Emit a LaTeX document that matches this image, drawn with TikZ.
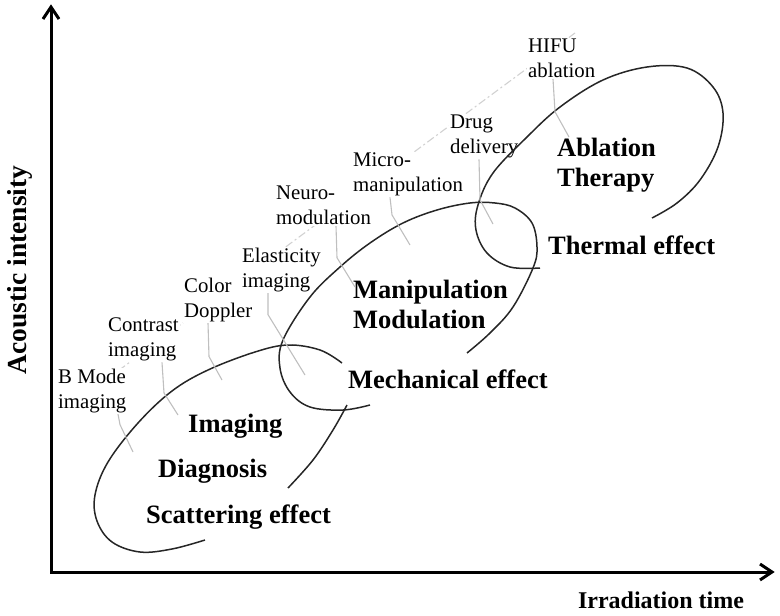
\documentclass[tikz,border=0pt]{standalone}
\usepackage{fontspec}
\setmainfont{Liberation Serif}
\tikzset{axis/.style={line width=3pt, line join=miter}}
\tikzset{axislabel/.style={inner sep=0, font=\fontsize{24}{28}\selectfont\bfseries}}
\tikzset{usecase/.style={fill=white, inner sep=1pt, align=left, anchor=north west,
    font=\fontsize{20.8}{25}\selectfont}}
\tikzset{effect/.style={inner sep=0, align=left, font=\fontsize{26.5}{30}\selectfont\bfseries}}
\tikzset{region/.style={line width=1.5pt, draw=black!85}}
\tikzset{leader/.style={line width=1.1pt, draw=black!25}}
\tikzset{guide/.style={line width=1.1pt, draw=black!18, dash pattern=on 8pt off 3pt on 2pt off 3pt}}

\begin{document}
\begin{tikzpicture}[x=1pt, y=-1pt]
    \useasboundingbox (0,0) rectangle (780,616);
    % dash-dot guide
    \coordinate (g0) at (80,399);
    \coordinate (g1) at (575,33);
    \draw[guide] (g0) -- (g1);

    % applications
    \node (bmode)      [usecase] at (57,367.8)  {B Mode\\imaging};
    \node (contrast)   [usecase] at (107,316.8) {Contrast\\imaging};
    \node (doppler)    [usecase] at (183,276.8) {Color\\Doppler};
    \node (elasticity) [usecase] at (241,246.8) {Elasticity\\imaging};
    \node (neuromod)   [usecase] at (275,184.8) {Neuro-\\modulation};
    \node (micromanip) [usecase] at (352,151.8) {Micro-\\manipulation};
    \node (drug)       [usecase] at (449,113.8) {Drug\\delivery};
    \node (hifu)       [usecase] at (527,37.8)  {HIFU\\ablation};

    % effects
    \node (ablation)   [effect, anchor=north west] at (557,137.7) {Ablation\\Therapy};
    \node (thermal)    [effect, anchor=base west]  at (548,254) {Thermal effect};
    \node (manip)      [effect, anchor=north west] at (353,279.7) {Manipulation\\Modulation};
    \node (mechanical) [effect, anchor=base west]  at (348,388) {Mechanical effect};
    \node (imaging)    [effect, anchor=base west]  at (188,432) {Imaging};
    \node (diagnosis)  [effect, anchor=base west]  at (158,477) {Diagnosis};
    \node (scattering) [effect, anchor=base west]  at (146,523) {Scattering effect};

    % region outlines
    \draw[region] plot[smooth, tension=0.6] coordinates {(205,540) (172,549) (140,552)
        (112,542) (97,521) (95,495) (108,462) (138,423) (172,391) (208,370) (255,352)
        (288,345) (320,350) (342,363)};
    \draw[region] plot[smooth, tension=0.6] coordinates {(347,405) (333,430) (313,460) (288,488)};
    \draw[region] plot[smooth, tension=0.6] coordinates {(370,405) (343,410) (310,407)
        (290,392) (280,368) (283,340) (310,297) (340,267) (370,243) (403,223) (437,210)
        (470,203) (495,203) (515,208) (532,223) (537,247) (533,268) (513,307) (490,333)
        (467,353)};
    \draw[region] plot[smooth, tension=0.6] coordinates {(540,268) (510,267) (487,253)
        (476,230) (478,205) (493,173) (527,137) (560,107) (603,80) (647,67) (687,68)
        (713,87) (723,113) (718,147) (700,180) (677,203) (652,218)};

    % leaders
    \coordinate (t1) at (133,452);
    \coordinate (t2) at (178,415);
    \coordinate (t3) at (222,380);
    \coordinate (t4) at (305,375);
    \coordinate (t5) at (355,287);
    \coordinate (t6) at (410,245);
    \coordinate (t7) at (493,224);
    \coordinate (t8) at (569,137);
    \draw[leader] ([xshift=61pt]bmode.south west) -- ++(2,10.5) -- (t1);
    \draw[leader] ([xshift=55pt]contrast.south west) -- ++(2,30.5) -- (t2);
    \draw[leader] ([xshift=25pt]doppler.south west) -- ++(1,33.5) -- (t3);
    \draw[leader] ([xshift=27pt]elasticity.south west) -- ++(0,21.5) -- (t4);
    \draw[leader] ([xshift=61pt]neuromod.south west) -- ++(1,31.7) -- (t5);
    \draw[leader] ([xshift=38pt]micromanip.south west) -- ++(2,17.5) -- (t6);
    \draw[leader] ([xshift=30pt]drug.south west) -- ++(1,40.5) -- (t7);
    \draw[leader] ([xshift=26pt]hifu.south west) -- ++(2,32.7) -- (t8);

    % axes
    \coordinate (origin) at (51,572);
    \coordinate (ytip) at (51,7);
    \coordinate (xtip) at (772,572);
    \draw[axis] (ytip) -- (origin) -- (xtip);
    \draw[axis] (ytip) ++(-8,12) -- (ytip) -- ++(8,12);
    \draw[axis] (xtip) ++(-12,-8) -- (xtip) -- ++(-12,8);
    \node (ylabel) [axislabel, rotate=90, anchor=base, font=\fontsize{27.5}{30}\selectfont\bfseries]
        at (27,270) {Acoustic intensity};
    \node (xlabel) [axislabel, anchor=base] at (661,608) {Irradiation time};
\end{tikzpicture}
\end{document}
